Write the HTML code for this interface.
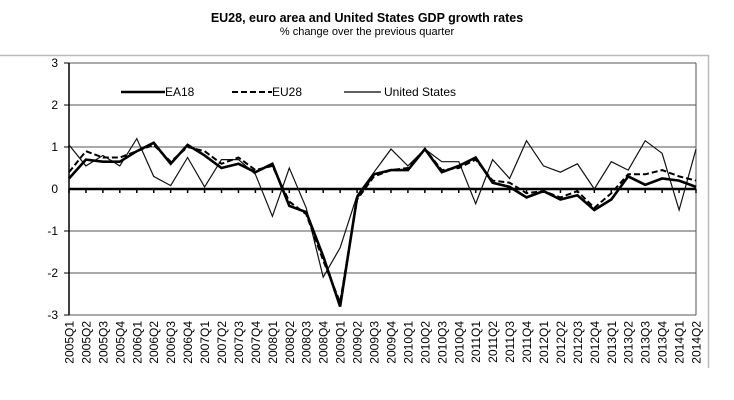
<!DOCTYPE html>
<html><head><meta charset="utf-8"><style>body{margin:0;background:#fff}svg{display:block;font-family:"Liberation Sans",Arial,sans-serif}</style></head><body>
<svg width="734" height="400" viewBox="0 0 734 400">
<text x="367" y="22" text-anchor="middle" font-size="12.5" font-weight="bold">EU28, euro area and United States GDP growth rates</text>
<text x="367" y="35" text-anchor="middle" font-size="11">% change over the previous quarter</text>
<path d="M0 55.5H708.5V368" fill="none" stroke="#bbb" stroke-width="1.5"/>
<g stroke="#555" stroke-width="1">
<line x1="69" x2="696" y1="63" y2="63"/><line x1="69" x2="696" y1="105" y2="105"/><line x1="69" x2="696" y1="147" y2="147"/>
<line x1="69" x2="696" y1="231" y2="231"/><line x1="69" x2="696" y1="273" y2="273"/><line x1="69" x2="696" y1="315" y2="315"/>
<line x1="696" x2="696" y1="63" y2="315"/>
</g>
<line x1="69" x2="69" y1="63" y2="315" stroke="#000" stroke-width="1.5"/>
<line x1="64" x2="69" y1="63" y2="63" stroke="#000"/><line x1="64" x2="69" y1="105" y2="105" stroke="#000"/><line x1="64" x2="69" y1="147" y2="147" stroke="#000"/><line x1="64" x2="69" y1="231" y2="231" stroke="#000"/><line x1="64" x2="69" y1="273" y2="273" stroke="#000"/><line x1="64" x2="69" y1="315" y2="315" stroke="#000"/>
<g font-size="12" text-anchor="end"><text x="58" y="67">3</text><text x="58" y="109">2</text><text x="58" y="151">1</text><text x="58" y="193">0</text><text x="58" y="235">-1</text><text x="58" y="277">-2</text><text x="58" y="319">-3</text></g>
<g id="ticks"></g>
<line x1="69" x2="696" y1="189" y2="189" stroke="#000" stroke-width="2.5"/>
<polyline id="us" fill="none" stroke="#111" stroke-width="1.2"/>
<polyline id="eu" fill="none" stroke="#000" stroke-width="2" stroke-dasharray="6,3"/>
<polyline id="ea" fill="none" stroke="#000" stroke-width="2.6"/>
<line x1="121" x2="165" y1="92" y2="92" stroke="#000" stroke-width="2.6"/><text x="165" y="96" font-size="12">EA18</text>
<line x1="232" x2="272" y1="92" y2="92" stroke="#000" stroke-width="2" stroke-dasharray="6,3"/><text x="272" y="96" font-size="12">EU28</text>
<line x1="344" x2="381" y1="92" y2="92" stroke="#000" stroke-width="1.2"/><text x="384" y="96" font-size="12">United States</text>
<g id="labels" font-size="12"></g>
</svg>
<script>
var ea=[0.25,0.7,0.65,0.65,0.9,1.1,0.6,1.05,0.8,0.5,0.6,0.4,0.6,-0.4,-0.55,-1.6,-2.8,-0.2,0.35,0.45,0.45,0.95,0.4,0.55,0.75,0.15,0.05,-0.2,-0.05,-0.25,-0.15,-0.5,-0.25,0.3,0.1,0.25,0.2,0.05];
var eu=[0.4,0.9,0.75,0.75,0.9,1.05,0.65,1.0,0.9,0.6,0.75,0.45,0.55,-0.3,-0.6,-1.7,-2.7,-0.25,0.3,0.45,0.5,0.95,0.45,0.5,0.7,0.2,0.15,-0.1,-0.05,-0.2,-0.05,-0.45,-0.1,0.35,0.35,0.45,0.3,0.2];
var us=[1.05,0.55,0.8,0.55,1.2,0.3,0.08,0.75,0.05,0.7,0.7,0.35,-0.65,0.5,-0.45,-2.1,-1.4,-0.15,0.4,0.95,0.55,0.95,0.65,0.65,-0.35,0.7,0.25,1.15,0.55,0.4,0.6,0.0,0.65,0.45,1.15,0.85,-0.5,0.95];
function X(i){return 69+i*627/37}function Y(v){return 189-42*v}
function pts(a){return a.map(function(v,i){return X(i).toFixed(1)+","+Y(v).toFixed(1)}).join(" ")}
document.getElementById("ea").setAttribute("points",pts(ea));
document.getElementById("eu").setAttribute("points",pts(eu));
document.getElementById("us").setAttribute("points",pts(us));
var ns="http://www.w3.org/2000/svg",L=document.getElementById("labels"),T=document.getElementById("ticks");
for(var i=0;i<38;i++){var y=2005+Math.floor(i/4),q=i%4+1,x=X(i);
var t=document.createElementNS(ns,"text");t.setAttribute("transform","translate("+(x+4.5)+",321) rotate(-90)");t.setAttribute("text-anchor","end");t.textContent=y+"Q"+q;L.appendChild(t);
var l=document.createElementNS(ns,"line");l.setAttribute("x1",x);l.setAttribute("x2",x);l.setAttribute("y1",189);l.setAttribute("y2",193);l.setAttribute("stroke","#000");l.setAttribute("stroke-width","1.5");T.appendChild(l);}
</script>
</body></html>
